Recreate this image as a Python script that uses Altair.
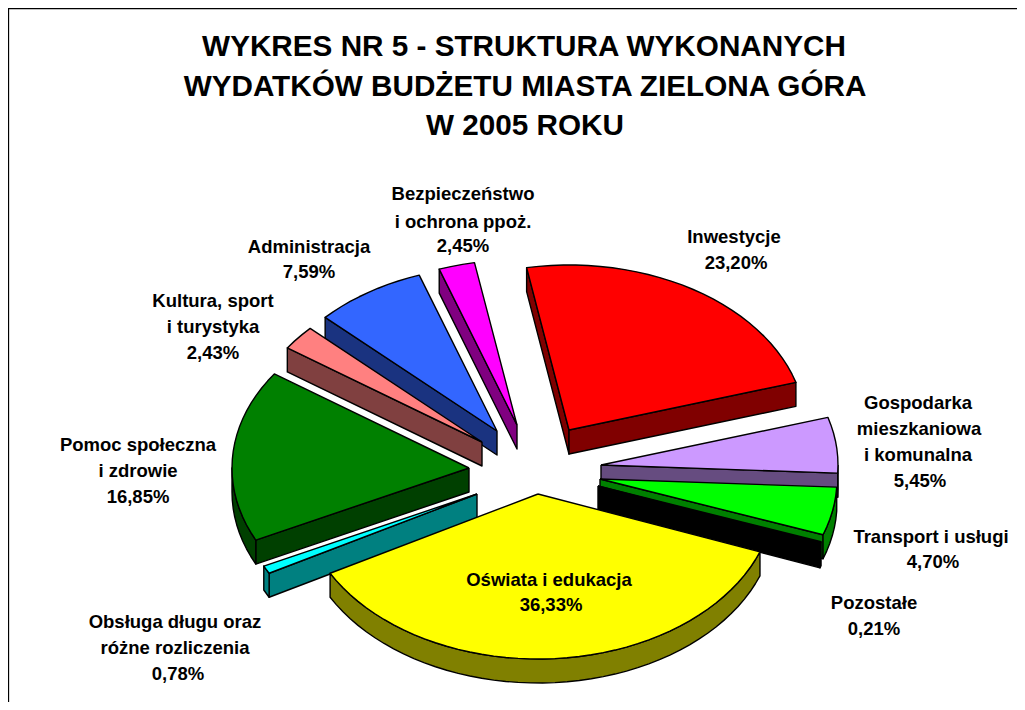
import numpy as np
import pandas as pd
import altair as alt

W, H = 1009, 694
OX, OY = 8, 8

names = ["Bezpieczeństwo", "Administracja", "Kultura", "Pomoc", "Inwestycje",
         "Gospodarka", "Transport", "Obsługa", "Pozostałe", "Oświata"]
# Shares in the clockwise order around the pie
order_cw = ["Inwestycje", "Gospodarka", "Transport", "Pozostałe", "Oświata",
            "Obsługa", "Pomoc", "Kultura", "Administracja", "Bezpieczeństwo"]
shares_cw = [23.20, 5.45, 4.70, 0.21, 36.33, 0.78, 16.85, 2.43, 7.59, 2.45]
colors_cw = ["#FF0000", "#CC99FF", "#00FF00", "#000000", "#FFFF00",
             "#00FFFF", "#008000", "#FF8080", "#3366FF", "#FF00FF"]
walls_cw = ["#800000", "#664C80", "#008000", "#000000", "#808000",
            "#008080", "#004000", "#804040", "#1A3380", "#800080"]
apex_x = [569, 601, 600, 598, 538, 477, 469, 482, 497, 517]
apex_y = [430, 465, 479, 486, 494, 494, 468, 442, 431, 425]

START_ANGLE = -10.3
RX, RY = 237, 165
DEPTH = 24

def rim(cx, cy, a0, a1, n):
    t = np.radians(np.linspace(a0, a1, n))
    return list(zip(cx + RX * np.sin(t), cy - RY * np.cos(t)))

rows = []
poly_id = [0]
def add(points, fill):
    pts = list(points) + [points[0]]
    for i, (x, y) in enumerate(pts):
        rows.append({"x": x, "y": y, "poly": poly_id[0], "i": i, "fill": fill})
    poly_id[0] += 1

angle = START_ANGLE
spans = {}
for name, share, col, wall, ax, ay in zip(order_cw, shares_cw, colors_cw, walls_cw, apex_x, apex_y):
    span = share * 3.6
    spans[name] = (angle, angle + span, col, wall, ax, ay)
    angle += span

for name in names:
    a0, a1, col, wall, ax, ay = spans[name]
    n = max(3, int((a1 - a0) / 3) + 2)
    arc = rim(ax, ay, a0, a1, n)
    # only the walls that face the viewer: cut faces on their own side, rim in the lower half
    if np.sin(np.radians(a0)) < 0:
        add([(ax, ay), arc[0], (arc[0][0], arc[0][1] + DEPTH), (ax, ay + DEPTH)], wall)
    if np.sin(np.radians(a1)) > 0:
        add([(ax, ay), arc[-1], (arc[-1][0], arc[-1][1] + DEPTH), (ax, ay + DEPTH)], wall)
    lo, hi = max(a0, 90), min(a1, 270)
    if hi > lo:
        low = rim(ax, ay, lo, hi, max(2, int((hi - lo) / 3) + 2))
        add(low + [(x, y + DEPTH) for x, y in reversed(low)], wall)
    add([(ax, ay)] + arc, col)

polys = pd.DataFrame(rows)

title_lines = ["WYKRES NR 5 - STRUKTURA WYKONANYCH",
               "WYDATKÓW BUDŻETU MIASTA ZIELONA GÓRA",
               "W 2005 ROKU"]
title_x = [524, 525, 525]
title_y = [47, 87, 126]

label_text = ["Bezpieczeństwo", "i ochrona ppoż.", "2,45%",
              "Inwestycje", "23,20%",
              "Gospodarka", "mieszkaniowa", "i komunalna", "5,45%",
              "Transport i usługi", "4,70%",
              "Pozostałe", "0,21%",
              "Oświata i edukacja", "36,33%",
              "Obsługa długu oraz", "różne rozliczenia", "0,78%",
              "Pomoc społeczna", "i zdrowie", "16,85%",
              "Kultura, sport", "i turystyka", "2,43%",
              "Administracja", "7,59%"]
label_x = [463, 463, 463, 734, 736, 918, 919, 918, 920, 931, 933, 874, 874,
           549, 551, 175, 175, 178, 138, 138, 138, 213, 213, 213, 309, 309]
label_y = [194, 222, 246, 237, 263, 403, 429, 455, 481, 537, 562, 603, 629,
           580, 605, 622, 648, 674, 445, 471, 497, 301, 327, 353, 247, 272]

frame_x = [8.5, 8.5, 1017]
frame_y = [702, 8.5, 8.5]

xs = alt.Scale(domain=[OX, OX + W], range=[0, W])
ys = alt.Scale(domain=[OY, OY + H], range=[0, H])
X = lambda f: alt.X(f, scale=xs, axis=None)
Y = lambda f: alt.Y(f, scale=ys, axis=None)

frame = alt.Chart(pd.DataFrame({"x": frame_x, "y": frame_y, "i": range(3)})).mark_line(
    color="black", strokeWidth=1.3
).encode(x=X("x:Q"), y=Y("y:Q"), order="i:Q")

pie = alt.Chart(polys).mark_line(
    stroke="black", strokeWidth=1.4, strokeJoin="round"
).encode(
    x=X("x:Q"), y=Y("y:Q"), order="i:Q",
    detail="poly:N",
    fill=alt.Fill("fill:N", scale=None),
)

titles = alt.Chart(pd.DataFrame({"x": title_x, "y": title_y, "t": title_lines})).mark_text(
    font="Liberation Sans", fontWeight="bold", fontSize=29.7, color="black", align="center", baseline="middle"
).encode(x=X("x:Q"), y=Y("y:Q"), text="t:N")

labels = alt.Chart(pd.DataFrame({"x": label_x, "y": label_y, "t": label_text})).mark_text(
    font="Liberation Sans", fontWeight="bold", fontSize=18.5, color="black", align="center", baseline="middle"
).encode(x=X("x:Q"), y=Y("y:Q"), text="t:N")

chart = alt.layer(frame, pie, titles, labels).properties(
    width=W, height=H, padding=0, background="white",
    autosize=alt.AutoSizeParams(type="none"),
).configure_view(stroke=None)

chart.save("out.html", embed_options={"renderer": "svg", "actions": False})
